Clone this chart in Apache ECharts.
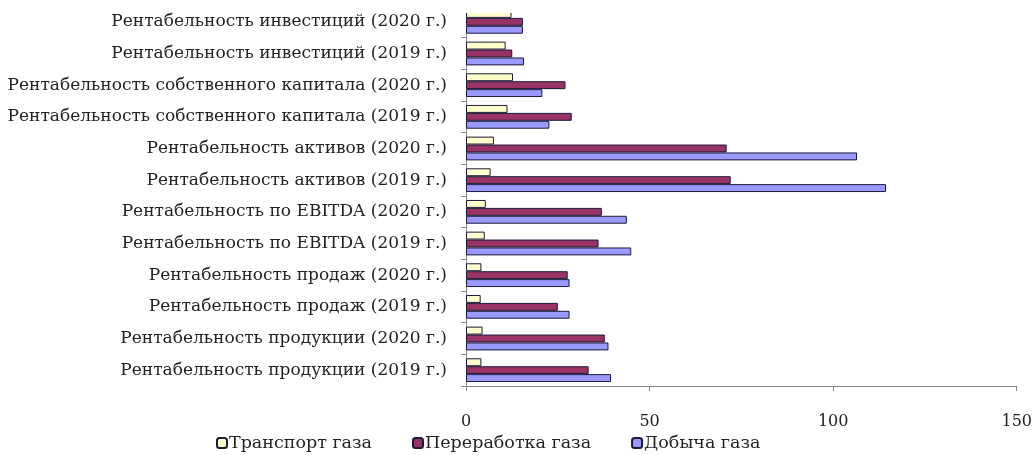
<!DOCTYPE html>
<html>
<head>
<meta charset="utf-8">
<script src="https://cdn.jsdelivr.net/npm/echarts@6/dist/echarts.min.js"></script>
<style>
  html, body { margin: 0; padding: 0; background: #fff; }
  #chart { width: 1035px; height: 455px; }
</style>
</head>
<body>
<div id="chart"></div>
<script>
// Categories listed bottom-to-top along the category axis
const categories = [
  'Рентабельность продукции (2019 г.)',
  'Рентабельность продукции (2020 г.)',
  'Рентабельность продаж (2019 г.)',
  'Рентабельность продаж (2020 г.)',
  'Рентабельность по EBITDA (2019 г.)',
  'Рентабельность по EBITDA (2020 г.)',
  'Рентабельность активов (2019 г.)',
  'Рентабельность активов (2020 г.)',
  'Рентабельность собственного капитала (2019 г.)',
  'Рентабельность собственного капитала (2020 г.)',
  'Рентабельность инвестиций (2019 г.)',
  'Рентабельность инвестиций (2020 г.)'
];
const transport = [4.2, 4.5, 4.0, 4.2, 5.1, 5.4, 6.7, 7.6, 11.3, 12.8, 10.8, 12.4];
const processing = [33.4, 37.8, 25.0, 27.7, 36.1, 37.0, 72.1, 71.0, 28.8, 27.1, 12.6, 15.5];
const production = [39.5, 38.8, 28.2, 28.2, 45.0, 43.8, 114.4, 106.5, 22.7, 20.8, 15.8, 15.5];
const xTicks = [0, 50, 100, 150];

const seriesNames = ['Транспорт газа', 'Переработка газа', 'Добыча газа'];
const font = '"DejaVu Serif", "Liberation Serif", serif';
const edge = '#1a1a3a';

const chart = echarts.init(document.getElementById('chart'));
chart.setOption({
  animation: false,
  textStyle: { fontFamily: font },
  grid: { left: 466, right: 15, top: 6, bottom: 69, containLabel: false },
  // blank strip along the top edge of the plot
  graphic: [{
    type: 'rect', left: 458, top: 0, z: 100,
    shape: { width: 577, height: 13 },
    style: { fill: '#fff' }
  }],
  legend: {
    data: seriesNames,
    left: 211,
    top: 429,
    itemWidth: 10,
    itemHeight: 10,
    itemGap: 40,
    textStyle: { fontFamily: font, fontSize: 17.5, color: '#222', padding: [0, 0, 0, -3] }
  },
  xAxis: {
    type: 'value',
    min: xTicks[0],
    max: xTicks[xTicks.length - 1],
    interval: 50,
    splitLine: { show: false },
    axisLine: { show: true, lineStyle: { color: '#888', width: 1 } },
    axisTick: { show: true, length: 5, lineStyle: { color: '#888' } },
    axisLabel: { fontFamily: font, fontSize: 16, color: '#222', margin: 28 }
  },
  yAxis: {
    type: 'category',
    data: categories,
    axisLine: { show: true, lineStyle: { color: '#888', width: 1 } },
    axisTick: { show: true, length: 5, lineStyle: { color: '#888' } },
    axisLabel: { fontFamily: font, fontSize: 17, color: '#222', margin: 19 }
  },
  series: [
    {
      name: 'Транспорт газа', type: 'bar', data: transport,
      barGap: '0%', barCategoryGap: '25%',
      itemStyle: { color: '#ffffcc', borderColor: edge, borderWidth: 1 }
    },
    {
      name: 'Переработка газа', type: 'bar', data: processing,
      barGap: '0%', barCategoryGap: '25%',
      itemStyle: { color: '#993366', borderColor: edge, borderWidth: 1 }
    },
    {
      name: 'Добыча газа', type: 'bar', data: production,
      barGap: '0%', barCategoryGap: '25%',
      itemStyle: { color: '#9999ff', borderColor: edge, borderWidth: 1 }
    }
  ]
});
</script>
</body>
</html>
